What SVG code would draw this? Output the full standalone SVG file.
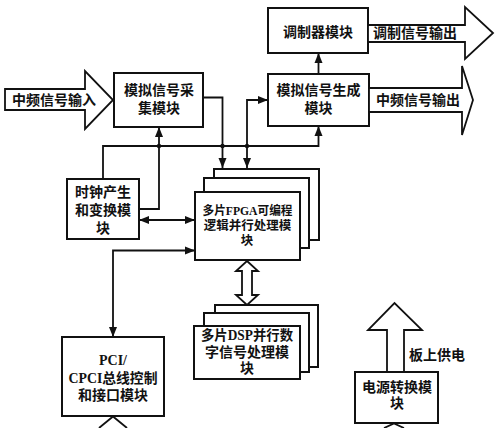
<svg xmlns="http://www.w3.org/2000/svg" width="500" height="428" viewBox="0 0 500 428">
<defs>
<style>
.box{fill:#fff;stroke:#111;stroke-width:2}
.ln{fill:none;stroke:#111;stroke-width:1.8}
.blk{fill:#fff;stroke:#111;stroke-width:1.8;stroke-linejoin:miter}
text{font-family:"Liberation Serif","Noto Sans CJK SC",serif;font-weight:bold;font-size:14px;fill:#111;dominant-baseline:central}
.c{text-anchor:middle}
.s{font-size:12.5px}
</style>
<marker id="ah" markerUnits="userSpaceOnUse" markerWidth="10" markerHeight="10" viewBox="0 0 10 10" refX="10" refY="5" orient="auto-start-reverse">
<path d="M0,1 L10,5 L0,9 Z" fill="#111"/>
</marker>
</defs>

<g id="connectors">
<path class="ln" d="M203,97.5 H222.5 V168" marker-end="url(#ah)"/>
<path class="ln" d="M247,168 V100 H268" marker-start="url(#ah)" marker-end="url(#ah)"/>
<path class="ln" d="M103,179 V146 H318.5 V126" marker-end="url(#ah)"/>
<path class="ln" d="M139,209 H159 V127" marker-end="url(#ah)"/>
<path class="ln" d="M139,220 H195" marker-start="url(#ah)" marker-end="url(#ah)"/>
<path class="ln" d="M113,337 V250.5 H195" marker-start="url(#ah)" marker-end="url(#ah)"/>
<path class="ln" d="M318.5,74 V53" marker-end="url(#ah)"/>
<circle cx="159" cy="146" r="2.2" fill="#111"/>
<circle cx="222.5" cy="146" r="2.2" fill="#111"/>
<circle cx="247" cy="146" r="2.2" fill="#111"/>
<polygon class="blk" points="247,261 258,271 252,271 252,295 258,295 247,305 236,295 242,295 242,271 236,271"/>
</g>

<g id="input-if">
<polygon class="blk" points="5,89 85,89 85,71 113,100 85,129 85,110 5,110"/>
<text x="12" y="100">中频信号输入</text>
</g>

<g id="acquisition">
<rect class="box" x="114" y="73" width="89" height="54"/>
<text class="c" x="159" y="90">模拟信号采</text>
<text class="c" x="159" y="108">集模块</text>
</g>

<g id="modulator">
<rect class="box" x="268" y="8" width="100" height="45"/>
<text class="c" x="318" y="32">调制器模块</text>
</g>

<g id="output-mod">
<polygon class="blk" points="368,25 465,25 465,7 493,33 465,59 465,42 368,42"/>
<text x="373" y="33">调制信号输出</text>
</g>

<g id="generator">
<rect class="box" x="268" y="74" width="101" height="52"/>
<text class="c" x="318.5" y="90">模拟信号生成</text>
<text class="c" x="318.5" y="108">模块</text>
</g>

<g id="output-if">
<polygon class="blk" points="369,88 462,88 462,66 473,100 462,135 462,112 369,112"/>
<text x="376" y="100">中频信号输出</text>
</g>

<g id="clock">
<rect class="box" x="67" y="179" width="72" height="60"/>
<text class="c" x="103" y="192">时钟产生</text>
<text class="c" x="103" y="210">和变换模</text>
<text class="c" x="103" y="228">块</text>
</g>

<g id="fpga">
<rect class="box" x="214" y="169" width="105" height="71"/>
<rect class="box" x="204" y="178" width="105" height="70"/>
<rect class="box" x="195" y="192" width="105" height="68"/>
<text class="c s" x="247.5" y="210.5" textLength="90" lengthAdjust="spacingAndGlyphs">多片FPGA可编程</text>
<text class="c s" x="247.5" y="225.5">逻辑并行处理模</text>
<text class="c s" x="247" y="241">块</text>
</g>

<g id="dsp">
<rect class="box" x="215" y="305" width="103" height="62"/>
<rect class="box" x="204" y="313" width="105" height="59"/>
<rect class="box" x="194" y="326" width="106" height="53"/>
<text class="c" x="247" y="335" textLength="92" lengthAdjust="spacingAndGlyphs">多片DSP并行数</text>
<text class="c" x="247" y="352">字信号处理模</text>
<text class="c" x="247" y="368">块</text>
</g>

<g id="pci">
<rect class="box" x="62" y="337" width="102" height="79"/>
<text class="c" x="113" y="360">PCI/</text>
<text class="c" x="113" y="378" textLength="89" lengthAdjust="spacingAndGlyphs">CPCI总线控制</text>
<text class="c" x="113" y="395">和接口模块</text>
<polyline class="ln" points="99,428 113,416.5 127,428"/>
</g>

<g id="power">
<polygon class="blk" points="387,372 387,330 368,330 394.5,303 422,330 404,330 404,372"/>
<text x="409" y="355">板上供电</text>
<rect class="box" x="355" y="372" width="83" height="51"/>
<text class="c" x="397" y="387">电源转换模</text>
<text class="c" x="397" y="403">块</text>
<polyline class="ln" points="384,428 394,423.5 404,428"/>
</g>
</svg>
